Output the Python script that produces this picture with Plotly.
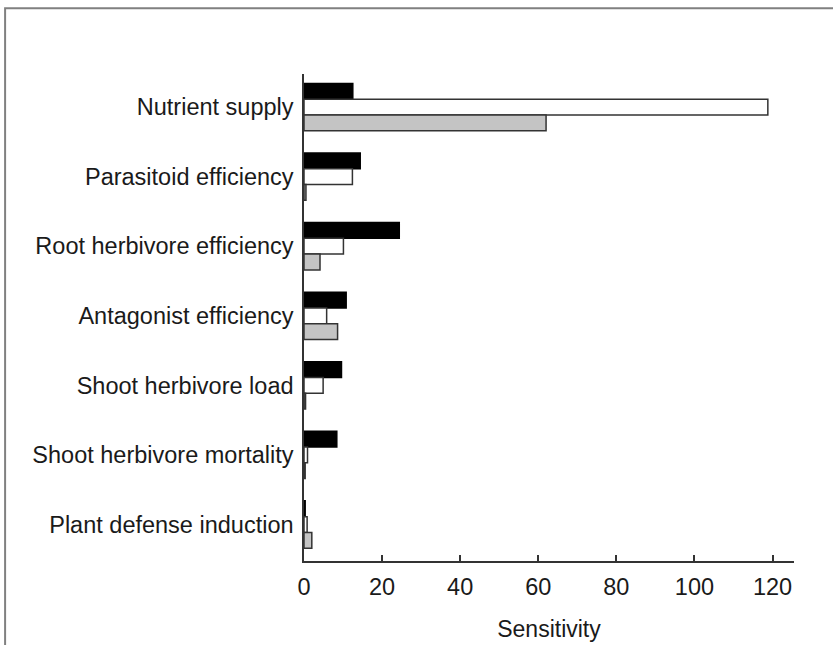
import plotly.graph_objects as go

categories = ["Nutrient supply", "Parasitoid efficiency", "Root herbivore efficiency",
              "Antagonist efficiency", "Shoot herbivore load",
              "Shoot herbivore mortality", "Plant defense induction"]
series_black = [12.5, 14.4, 24.4, 10.8, 9.6, 8.4, 0.3]
series_white = [118.8, 12.4, 10.1, 5.8, 4.9, 0.9, 0.8]
series_grey = [62.0, 0.5, 4.1, 8.6, 0.4, 0.3, 2.0]
x_ticks = [0, 20, 40, 60, 80, 100, 120]

FONT = "Liberation Sans, Arial, sans-serif"
LINE = "#333333"

fig = go.Figure()
fig.add_trace(go.Bar(y=categories, x=series_black, orientation="h", name="A",
                     marker=dict(color="#000000", line=dict(color="#000000", width=1.5))))
fig.add_trace(go.Bar(y=categories, x=series_white, orientation="h", name="B",
                     marker=dict(color="#ffffff", line=dict(color=LINE, width=1.5))))
fig.add_trace(go.Bar(y=categories, x=series_grey, orientation="h", name="C",
                     marker=dict(color="#c4c4c4", line=dict(color=LINE, width=1.5))))

fig.update_layout(
    width=833, height=645,
    margin=dict(l=304, r=39, t=74, b=84),
    paper_bgcolor="white", plot_bgcolor="white",
    barmode="group", bargap=0.32, bargroupgap=0,
    showlegend=False,
    font=dict(family=FONT, size=23.5, color="#1a1a1a"),
    xaxis=dict(range=[0, 125.5], tickvals=x_ticks, ticktext=[str(v) for v in x_ticks],
               automargin=False,
               showgrid=False, zeroline=False, showline=True, linecolor=LINE, linewidth=1.5,
               ticks="inside", ticklen=6, tickwidth=1.5, tickcolor=LINE,
               ticklabelstandoff=4,
               title=dict(text="Sensitivity", standoff=22, font=dict(size=23)),
               tickfont=dict(size=23.5)),
    yaxis=dict(type="category", categoryorder="array", categoryarray=categories,
               automargin=False,
               range=[6.5245, -0.4755], showgrid=False, zeroline=False,
               showline=True, linecolor=LINE, linewidth=1.5, ticks="",
               ticklabelstandoff=4, tickfont=dict(size=23.5)),
    shapes=[dict(type="path", xref="paper", yref="paper",
                 path="M -0.610 -0.2 L -0.610 1.135 L 1.2 1.135",
                 line=dict(color="#808080", width=2))],
)

fig.write_html("out.html",
               config={"responsive": False, "displayModeBar": False},
               post_script="document.body.style.margin='0';document.body.style.padding='0';"
                           "document.documentElement.style.overflow='hidden';")
